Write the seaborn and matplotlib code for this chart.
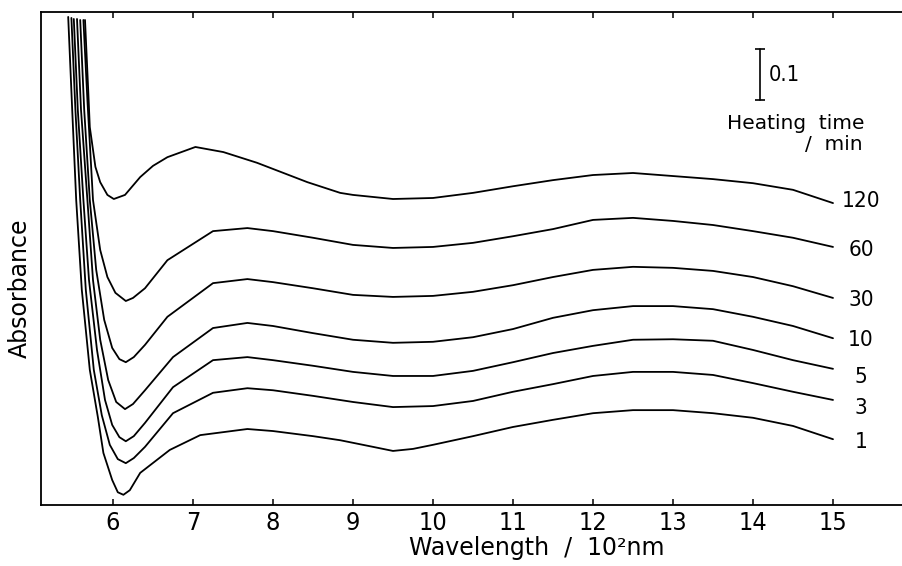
import matplotlib
matplotlib.use("Agg")
import matplotlib.pyplot as plt
import seaborn as sns
import pandas as pd
from matplotlib import font_manager

# ---------------- data (wavelength in 10^2 nm, absorbance) ----------------
heating_times = ["120", "60", "30", "10", "5", "3", "1"]

wl_120 = [5.65, 5.69, 5.71, 5.78, 5.84, 5.93, 6.01, 6.15, 6.34, 6.50, 6.68, 7.03, 7.38, 7.80, 8.43, 8.84,
          9.0, 9.5, 10.0, 10.5, 11.0, 11.5, 12.0, 12.5, 13.0, 13.5, 14.0, 14.5, 15.0]
ab_120 = [0.951, 0.814, 0.741, 0.663, 0.633, 0.608, 0.600, 0.608, 0.643, 0.665, 0.682, 0.702, 0.692, 0.671, 0.633, 0.612,
          0.608, 0.600, 0.602, 0.612, 0.625, 0.637, 0.647, 0.651, 0.645, 0.639, 0.631, 0.618, 0.592]

wl_60 = [5.63, 5.68, 5.75, 5.84, 5.93, 6.03, 6.16, 6.25, 6.40, 6.68, 7.25, 7.68, 8.0,
         8.5, 9.0, 9.5, 10.0, 10.5, 11.0, 11.5, 12.0, 12.5, 13.0, 13.5, 14.0, 14.5, 15.0]
ab_60 = [0.951, 0.794, 0.598, 0.500, 0.447, 0.416, 0.400, 0.406, 0.425, 0.480, 0.537, 0.543, 0.537,
         0.524, 0.510, 0.504, 0.506, 0.514, 0.527, 0.541, 0.559, 0.563, 0.557, 0.549, 0.537, 0.524, 0.506]

wl_30 = [5.59, 5.64, 5.71, 5.79, 5.89, 5.99, 6.08, 6.16, 6.26, 6.40, 6.68, 7.25, 7.68, 8.0,
         8.5, 9.0, 9.5, 10.0, 10.5, 11.0, 11.5, 12.0, 12.5, 13.0, 13.5, 14.0, 14.5, 15.0]
ab_30 = [0.951, 0.775, 0.598, 0.461, 0.363, 0.308, 0.286, 0.280, 0.290, 0.314, 0.369, 0.435, 0.443, 0.437,
         0.425, 0.412, 0.408, 0.410, 0.418, 0.431, 0.447, 0.461, 0.467, 0.465, 0.459, 0.447, 0.429, 0.406]

wl_10 = [5.55, 5.60, 5.68, 5.75, 5.84, 5.94, 6.04, 6.15, 6.25, 6.40, 6.75, 7.25, 7.68, 8.0,
         8.5, 9.0, 9.5, 10.0, 10.5, 11.0, 11.5, 12.0, 12.5, 13.0, 13.5, 14.0, 14.5, 15.0]
ab_10 = [0.953, 0.775, 0.598, 0.441, 0.324, 0.245, 0.202, 0.188, 0.198, 0.225, 0.290, 0.347, 0.357, 0.351,
         0.337, 0.324, 0.318, 0.320, 0.329, 0.345, 0.367, 0.382, 0.390, 0.390, 0.384, 0.369, 0.351, 0.327]

wl_5 = [5.51, 5.56, 5.63, 5.70, 5.80, 5.90, 5.99, 6.08, 6.16, 6.26, 6.40, 6.75, 7.25, 7.68, 8.0,
        8.5, 9.0, 9.5, 10.0, 10.5, 11.0, 11.5, 12.0, 12.5, 13.0, 13.5, 14.0, 14.5, 15.0]
ab_5 = [0.953, 0.775, 0.598, 0.441, 0.304, 0.206, 0.157, 0.133, 0.125, 0.135, 0.161, 0.231, 0.284, 0.290, 0.284,
        0.273, 0.261, 0.253, 0.253, 0.263, 0.280, 0.298, 0.312, 0.324, 0.325, 0.322, 0.304, 0.284, 0.267]

wl_3 = [5.48, 5.53, 5.59, 5.66, 5.76, 5.86, 5.96, 6.06, 6.16, 6.26, 6.40, 6.75, 7.25, 7.68, 8.0,
        8.5, 9.0, 9.5, 10.0, 10.5, 11.0, 11.5, 12.0, 12.5, 13.0, 13.5, 14.0, 14.5, 15.0]
ab_3 = [0.955, 0.775, 0.598, 0.422, 0.265, 0.176, 0.118, 0.090, 0.082, 0.092, 0.114, 0.180, 0.220, 0.229, 0.225,
        0.214, 0.202, 0.192, 0.194, 0.204, 0.222, 0.237, 0.253, 0.261, 0.261, 0.255, 0.239, 0.222, 0.206]

wl_1 = [5.44, 5.49, 5.54, 5.61, 5.71, 5.81, 5.88, 5.99, 6.06, 6.13, 6.21, 6.34, 6.71, 7.09, 7.68, 8.0,
        8.5, 8.84, 9.25, 9.5, 9.75, 10.0, 10.5, 11.0, 11.5, 12.0, 12.5, 13.0, 13.5, 14.0, 14.5, 15.0]
ab_1 = [0.957, 0.775, 0.598, 0.422, 0.265, 0.173, 0.102, 0.049, 0.025, 0.020, 0.029, 0.063, 0.108, 0.137, 0.149, 0.145,
        0.135, 0.127, 0.114, 0.106, 0.110, 0.118, 0.135, 0.153, 0.167, 0.180, 0.186, 0.186, 0.180, 0.171, 0.155, 0.129]

xticks = [6, 7, 8, 9, 10, 11, 12, 13, 14, 15]
xtick_labels = ["6", "7", "8", "9", "10", "11", "12", "13", "14", "15"]
scale_bar = 0.1

series_wl = [wl_120, wl_60, wl_30, wl_10, wl_5, wl_3, wl_1]
series_ab = [ab_120, ab_60, ab_30, ab_10, ab_5, ab_3, ab_1]

frames = []
for t, w, a in zip(heating_times, series_wl, series_ab):
    frames.append(pd.DataFrame({"wl": w, "ab": a, "time": t}))
df = pd.concat(frames, ignore_index=True)

# ---------------- style ----------------
sns.set_theme(style="white")
plt.rcParams["font.family"] = ["DejaVu Sans"]

fonts = font_manager.fontManager.ttflist
names = {f.name for f in fonts}
num_kw = {}
if "Liberation Sans Narrow" in names:
    num_kw = dict(family=["Liberation Sans Narrow", "DejaVu Sans"])
    nscale = 1.0
elif any(f.name == "DejaVu Sans" and f.stretch == "condensed" for f in fonts):
    num_kw = dict(family=["DejaVu Sans"], fontstretch="condensed")
    nscale = 0.95
elif "Roboto" in names:
    num_kw = dict(family=["Roboto", "DejaVu Sans"])
    nscale = 0.95
else:
    num_kw = dict(family=["DejaVu Sans"])
    nscale = 0.9

fig = plt.figure(figsize=(9.02, 5.66), dpi=100)
ax = fig.add_axes([41 / 902, 1 - 505 / 566, 1 - 41 / 902, (505 - 12) / 566])

sns.lineplot(data=df, x="wl", y="ab", units="time", estimator=None, sort=False,
             color="black", linewidth=1.3, ax=ax, legend=False)

ax.set_xlim(5.1, 15.8625)
ax.set_ylim(0, (505 - 12) / 510)

ax.set_xticks(xticks)
ax.set_xticklabels(xtick_labels, fontsize=19 * nscale, **num_kw)
ax.set_yticks([])
ax.tick_params(axis="x", which="major", direction="in", length=4.5, width=1.1,
               top=True, bottom=True, labeltop=False, pad=4, colors="black")

for side in ["left", "bottom", "top"]:
    ax.spines[side].set_visible(True)
    ax.spines[side].set_color("black")
    ax.spines[side].set_linewidth(1.3)
ax.spines["right"].set_visible(False)

ax.set_xlabel("Wavelength  /  10²nm", fontsize=17, color="black")
ax.xaxis.set_label_coords(0.576, -0.062)
ax.set_ylabel("Absorbance", fontsize=17, color="black")
ax.yaxis.set_label_coords(-0.011, 0.44)

# curve labels
label_dy = [0.004, -0.006, -0.004, -0.003, -0.016, -0.016, -0.005]
for t, a, dy in zip(heating_times, series_ab, label_dy):
    ax.text(15.35, a[-1] + dy, t, ha="center", va="center",
            fontsize=17 * nscale, color="black", **num_kw)

# scale bar
bar_x = 14.09
bar_y0 = 0.794
ax.plot([bar_x, bar_x], [bar_y0, bar_y0 + scale_bar], color="black", linewidth=1.2,
        marker="_", markersize=7, markeredgewidth=1.2)
ax.text(14.20, bar_y0 + scale_bar / 2, f"{scale_bar}", ha="left", va="center",
        fontsize=16.5 * nscale, color="black", **num_kw)
ax.text(14.54, 0.749, "Heating  time", ha="center", va="center", fontsize=14.5, color="black")
ax.text(15.375, 0.706, "/  min", ha="right", va="center", fontsize=14.5, color="black")

fig.savefig("out.png", dpi=100)
